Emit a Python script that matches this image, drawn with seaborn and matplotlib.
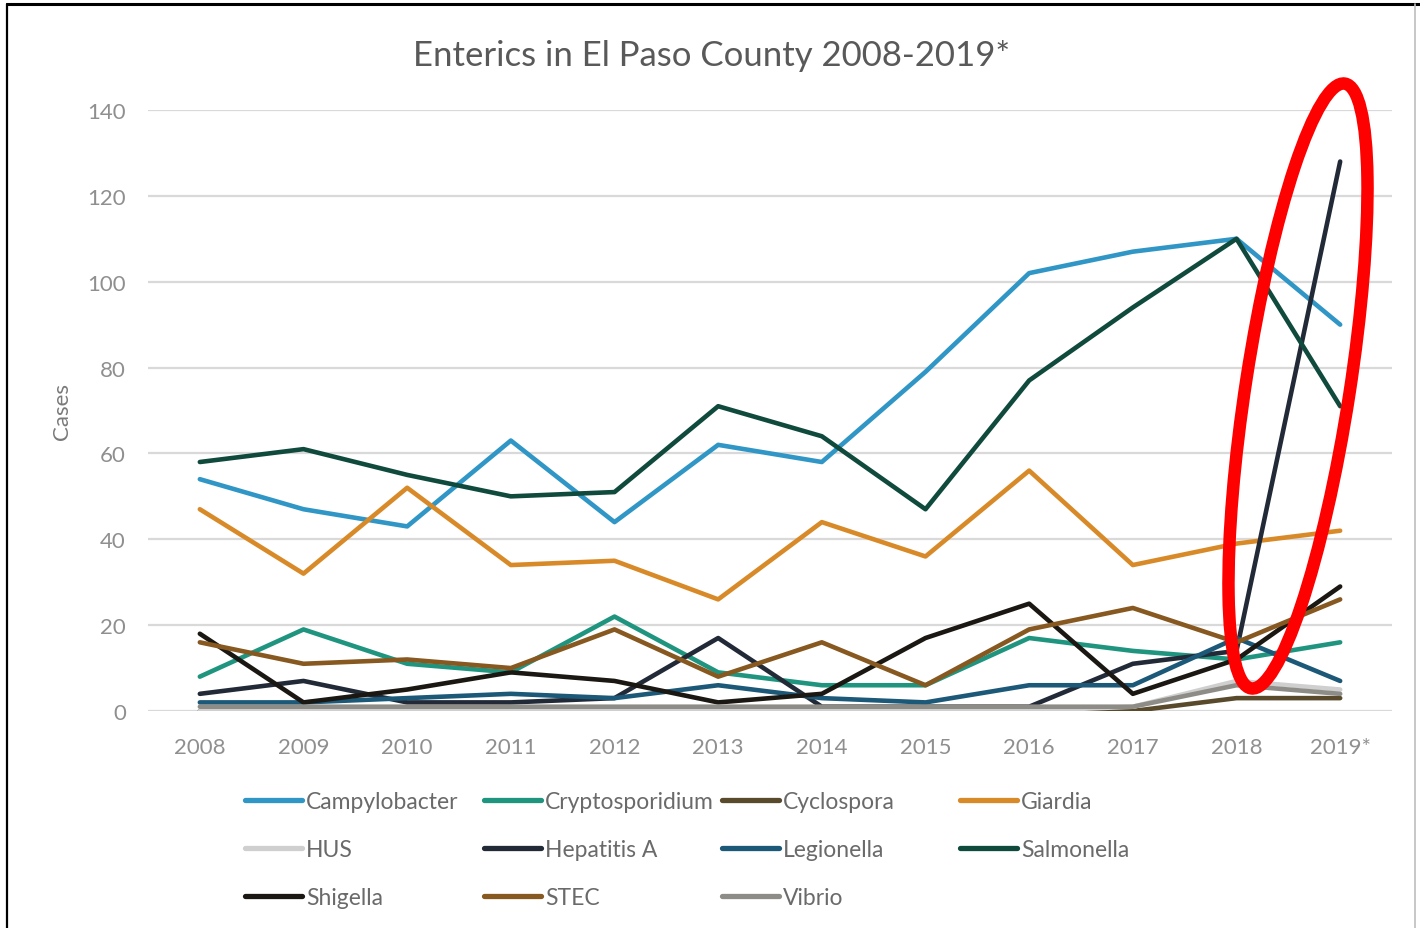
import pandas as pd
import matplotlib
matplotlib.use("Agg")
import matplotlib.pyplot as plt
import seaborn as sns
from matplotlib.lines import Line2D
from matplotlib.patches import Ellipse
from matplotlib.transforms import IdentityTransform

# Cases per year
years = ['2008', '2009', '2010', '2011', '2012', '2013',
         '2014', '2015', '2016', '2017', '2018', '2019*']
campylobacter = [54, 47, 43, 63, 44, 62, 58, 79, 102, 107, 110, 90]
cryptosporidium = [8, 19, 11, 9, 22, 9, 6, 6, 17, 14, 12, 16]
cyclospora = [0, 0, 0, 0, 0, 0, 0, 0, 0, 0, 3, 3]
giardia = [47, 32, 52, 34, 35, 26, 44, 36, 56, 34, 39, 42]
hus = [0, 0, 0, 0, 0, 0, 0, 0, 0, 1, 7, 5]
hepatitis_a = [4, 7, 2, 2, 3, 17, 1, 1, 1, 11, 14, 128]
legionella = [2, 2, 3, 4, 3, 6, 3, 2, 6, 6, 17, 7]
salmonella = [58, 61, 55, 50, 51, 71, 64, 47, 77, 94, 110, 71]
shigella = [18, 2, 5, 9, 7, 2, 4, 17, 25, 4, 12, 29]
stec = [16, 11, 12, 10, 19, 8, 16, 6, 19, 24, 16, 26]
vibrio = [1, 1, 1, 1, 1, 1, 1, 1, 1, 1, 6, 4]

series = {
    'Campylobacter': campylobacter,
    'Cryptosporidium': cryptosporidium,
    'Cyclospora': cyclospora,
    'Giardia': giardia,
    'HUS': hus,
    'Hepatitis A': hepatitis_a,
    'Legionella': legionella,
    'Salmonella': salmonella,
    'Shigella': shigella,
    'STEC': stec,
    'Vibrio': vibrio,
}
colors = {
    'Campylobacter': '#2f96c6',
    'Cryptosporidium': '#1f9580',
    'Cyclospora': '#5a4a2c',
    'Giardia': '#d98a28',
    'HUS': '#cfcfcf',
    'Hepatitis A': '#222a38',
    'Legionella': '#1c5878',
    'Salmonella': '#0f4a3d',
    'Shigella': '#1b1712',
    'STEC': '#87581f',
    'Vibrio': '#8e8c86',
}

# long format for seaborn
rows = []
for name, vals in series.items():
    for yr, v in zip(years, vals):
        rows.append({'year': yr, 'cases': v, 'disease': name})
df = pd.DataFrame(rows)

sns.set_style("white")
plt.rcParams['font.family'] = ['Lato', 'DejaVu Sans']

W, H = 1420, 929
fig = plt.figure(figsize=(W / 100, H / 100), dpi=100)
ax = fig.add_axes([148 / W, 1 - 712 / H, (1392 - 148) / W, (712 - 111) / H])

sns.lineplot(data=df, x='year', y='cases', hue='disease',
             hue_order=list(series.keys()), palette=colors,
             linewidth=3.3, legend=False, ax=ax, sort=False)

ax.set_xlim(-0.5, len(years) - 0.5)
ax.set_ylim(0, 140)
ax.set_yticks(range(0, 141, 20))
ax.yaxis.grid(True, color='#d9d9d9', linewidth=1.6)
ax.set_axisbelow(True)
for s in ax.spines.values():
    s.set_visible(False)
ax.tick_params(axis='both', length=0, labelsize=16, labelcolor='#8f8f8f')
ax.tick_params(axis='x', pad=19)
ax.tick_params(axis='y', pad=16)
ax.set_xlabel('')
ax.set_ylabel('Cases', fontsize=16, color='#7a7a7a')
ax.yaxis.set_label_coords(-0.061, 0.5)

fig.text(712 / W, 1 - 56 / H, 'Enterics in El Paso County 2008-2019*',
         ha='center', va='center', fontsize=25, color='#595959')

# legend: four fixed-width columns like Excel
columns = [
    ['Campylobacter', 'HUS', 'Shigella'],
    ['Cryptosporidium', 'Hepatitis A', 'STEC'],
    ['Cyclospora', 'Legionella', 'Vibrio'],
    ['Giardia', 'Salmonella'],
]
col_x = [245, 484, 722, 960]
for cx, names in zip(col_x, columns):
    handles = [Line2D([0], [0], color=colors[n], lw=3.8) for n in names]
    leg = fig.legend(handles, names, loc='upper left',
                     bbox_to_anchor=(cx / W, 1 - 792 / H),
                     frameon=False, fontsize=16.5, handlelength=2.5,
                     handletextpad=0.15, labelspacing=1.17,
                     borderpad=0, borderaxespad=0)
    for t in leg.get_texts():
        t.set_color('#6a6a6a')

# red highlight around the 2019 spike
fig.add_artist(Ellipse((1298, H - 387), 104, 612, angle=-8.8,
                       fill=False, edgecolor='#ff0000', linewidth=9,
                       transform=IdentityTransform()))

# screenshot frame
fig.add_artist(Line2D([7 / W, 7 / W], [0, 1 - 5 / H], color='black',
                      lw=1.6, transform=fig.transFigure))
fig.add_artist(Line2D([7 / W, 1], [1 - 5 / H, 1 - 5 / H], color='black',
                      lw=2.2, transform=fig.transFigure))
fig.add_artist(Line2D([1415 / W, 1415 / W], [0, 1 - 5 / H], color='#bdbdbd',
                      lw=1.2, transform=fig.transFigure))

fig.savefig('out.png', dpi=100)
